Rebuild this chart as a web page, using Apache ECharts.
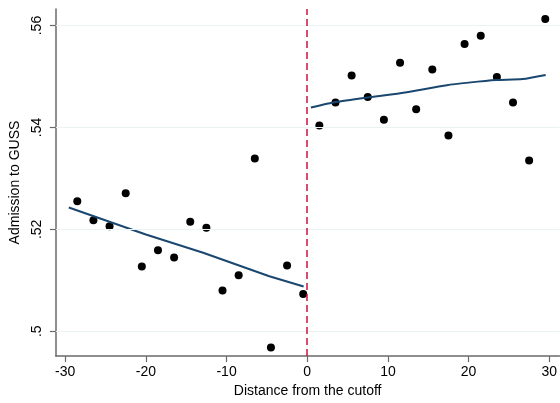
<!DOCTYPE html>
<html>
<head>
<meta charset="utf-8">
<script src="https://cdn.jsdelivr.net/npm/echarts@6/dist/echarts.min.js"></script>
<style>
  html, body { margin: 0; padding: 0; background: #fff; }
  #chart { width: 560px; height: 403px; }
</style>
</head>
<body>
<div id="chart"></div>
<script>
// binned means, left of the cutoff
var leftX = [-28.5, -26.5, -24.5, -22.5, -20.5, -18.5, -16.5, -14.5, -12.5, -10.5, -8.5, -6.5, -4.5, -2.5, -0.5];
var leftY = [0.5255, 0.5218, 0.5206, 0.5271, 0.5127, 0.5159, 0.5145, 0.5215, 0.5203, 0.5080, 0.5110, 0.5339, 0.4968, 0.5129, 0.5073];
// binned means, right of the cutoff
var rightX = [1.5, 3.5, 5.5, 7.5, 9.5, 11.5, 13.5, 15.5, 17.5, 19.5, 21.5, 23.5, 25.5, 27.5, 29.5];
var rightY = [0.5404, 0.5449, 0.5502, 0.5460, 0.5415, 0.5527, 0.5436, 0.5514, 0.5384, 0.5564, 0.5580, 0.5499, 0.5449, 0.5335, 0.5613];
// fitted lines
var fitLeftX = [-29.55, -20, -12.9, -4.7, -0.45];
var fitLeftY = [0.5243, 0.5190, 0.5154, 0.5108, 0.5088];
var fitRightX = [0.45, 3.5, 7.5, 11.5, 17.3, 20, 23.4, 26.7, 29.55];
var fitRightY = [0.5439, 0.5450, 0.5459, 0.5467, 0.5483, 0.5488, 0.5493, 0.5495, 0.5503];
// ticks
var xTicks = [-30, -20, -10, 0, 10, 20, 30];
var yTicks = [0.5, 0.52, 0.54, 0.56];
var cutoff = 0;

function pairs(xs, ys) {
  return xs.map(function (x, i) { return [x, ys[i]]; });
}

var font = 'Liberation Sans, Arial, sans-serif';
var axisGray = '#6a6a6a';

var myChart = echarts.init(document.getElementById('chart'));
var option = {
  animation: false,
  grid: { left: 51, right: 0, top: 9, bottom: 44, containLabel: false },
  xAxis: {
    type: 'value',
    min: -31.15,
    max: 31.25,
    name: 'Distance from the cutoff',
    nameLocation: 'middle',
    nameGap: 24,
    nameTextStyle: { fontFamily: font, fontSize: 14, color: '#000' },
    axisLine: { show: true, onZero: false, lineStyle: { color: axisGray, width: 1.5 } },
    axisTick: { show: true, length: 6, customValues: xTicks, lineStyle: { color: axisGray, width: 1.2 } },
    axisLabel: { customValues: xTicks, margin: 9, fontFamily: font, fontSize: 14, color: '#000' },
    splitLine: { show: false }
  },
  yAxis: {
    type: 'value',
    min: 0.49513,
    max: 0.56325,
    name: 'Admission to GUSS',
    nameLocation: 'middle',
    nameGap: 31,
    nameTextStyle: { fontFamily: font, fontSize: 14, color: '#000' },
    axisLine: { show: true, onZero: false, lineStyle: { color: axisGray, width: 1.5 } },
    axisTick: { show: true, length: 6, customValues: yTicks, lineStyle: { color: axisGray, width: 1.2 } },
    axisLabel: {
      customValues: yTicks,
      rotate: 90,
      margin: 12,
      fontFamily: font,
      fontSize: 14,
      color: '#000',
      formatter: function (v) { return String(v).replace(/^0\./, '.'); }
    },
    splitLine: { show: false }
  },
  series: [
    {
      type: 'line',
      data: [],
      z: 1,
      silent: true,
      markLine: {
        silent: true,
        symbol: 'none',
        label: { show: false },
        lineStyle: { color: '#eaf2f3', width: 1, type: 'solid' },
        data: yTicks.map(function (t) { return { yAxis: t }; })
      }
    },
    {
      type: 'line',
      data: [],
      z: 2,
      silent: true,
      markLine: {
        silent: true,
        symbol: 'none',
        label: { show: false },
        lineStyle: { color: '#d0103f', width: 1.5, type: [7, 4] },
        data: [{ xAxis: cutoff }]
      }
    },
    {
      type: 'scatter',
      data: pairs(leftX, leftY),
      symbol: 'circle',
      symbolSize: 8,
      itemStyle: { color: '#000', opacity: 1 },
      z: 3
    },
    {
      type: 'scatter',
      data: pairs(rightX, rightY),
      symbol: 'circle',
      symbolSize: 8,
      itemStyle: { color: '#000', opacity: 1 },
      z: 3
    },
    {
      type: 'line',
      data: pairs(fitLeftX, fitLeftY),
      showSymbol: false,
      smooth: false,
      lineStyle: { color: '#1a476f', width: 2 },
      z: 4
    },
    {
      type: 'line',
      data: pairs(fitRightX, fitRightY),
      showSymbol: false,
      smooth: 0.2,
      lineStyle: { color: '#1a476f', width: 2 },
      z: 4
    }
  ]
};
myChart.setOption(option);
</script>
</body>
</html>
